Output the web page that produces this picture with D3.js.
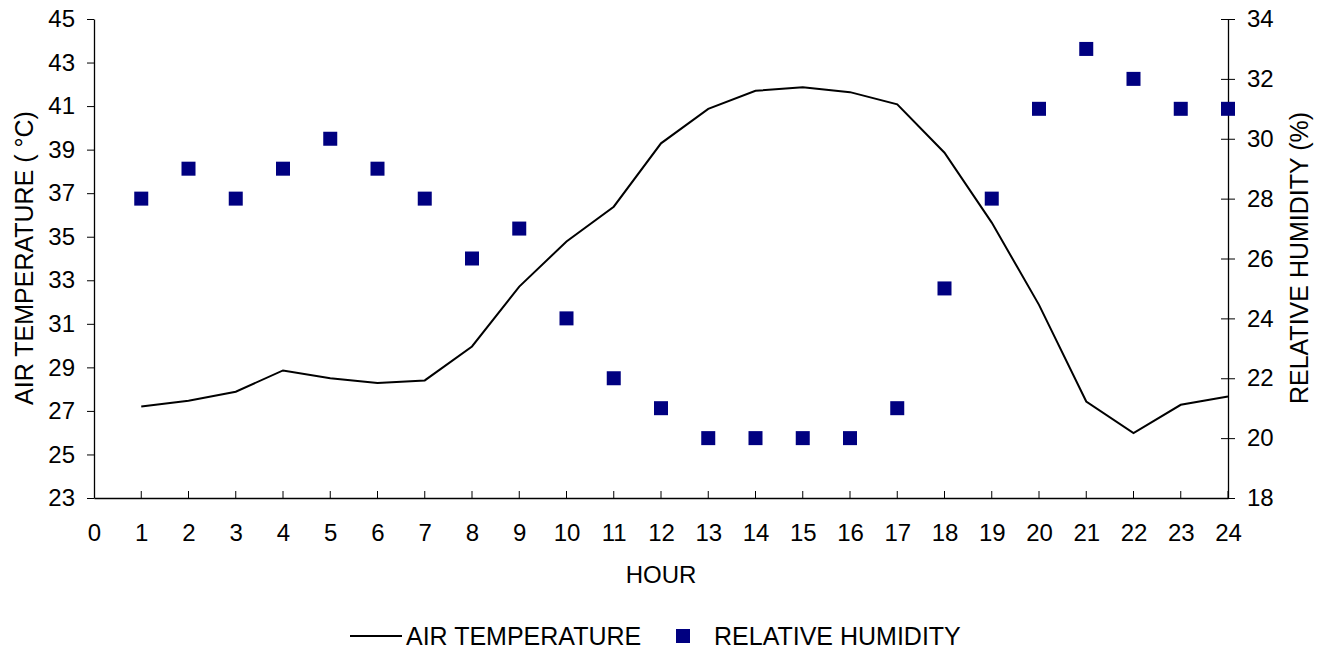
<!DOCTYPE html>
<html><head><meta charset="utf-8">
<script src="https://cdn.jsdelivr.net/npm/d3@7"></script>
<style>body{margin:0;background:#fff;} svg text{font-family:"Liberation Sans",Arial,sans-serif;fill:#000;}</style>
</head><body>
<svg id="chart" width="1331" height="656"></svg>
<script>
const hours = [1,2,3,4,5,6,7,8,9,10,11,12,13,14,15,16,17,18,19,20,21,22,23,24];
const airTemperature = [27.2,27.47,27.88,28.86,28.5,28.28,28.4,29.96,32.71,34.78,36.38,39.29,40.87,41.7,41.86,41.64,41.08,38.86,35.65,31.87,27.43,25.98,27.28,27.66];
const relativeHumidity = [28,29,28,29,30,29,28,26,27,24,22,21,20,20,20,20,21,25,28,31,33,32,31,31];
const xTicks = d3.range(0,25);
const leftTicks = [23,25,27,29,31,33,35,37,39,41,43,45];
const rightTicks = [18,20,22,24,26,28,30,32,34];

const svg = d3.select("#chart");
const L=94, R=1228, T=19, B=498;
const x = d3.scaleLinear().domain([0,24]).range([L,R]);
const yL = d3.scaleLinear().domain([23,45]).range([B,T]);
const yR = d3.scaleLinear().domain([18,34]).range([B,T]);

// x axis
const gx = svg.append("g").attr("transform",`translate(0,${B})`)
  .call(d3.axisBottom(x).tickValues(xTicks).tickSize(0).tickPadding(26).tickFormat(d3.format("d")));
gx.select(".domain").attr("stroke","#000").attr("stroke-width",1.3);
gx.selectAll("text").attr("font-size",24);
gx.selectAll(".inner").data(xTicks.slice(1)).enter().append("line")
  .attr("x1",d=>x(d)).attr("x2",d=>x(d)).attr("y1",0).attr("y2",-7).attr("stroke","#000").attr("stroke-width",1);

// left axis
const gl = svg.append("g").attr("transform",`translate(${L},0)`)
  .call(d3.axisLeft(yL).tickValues(leftTicks).tickSize(7).tickPadding(12).tickSizeOuter(0));
gl.select(".domain").attr("stroke","#000").attr("stroke-width",1.3);
gl.selectAll("text").attr("font-size",24);

// right axis
const gr = svg.append("g").attr("transform",`translate(${R},0)`)
  .call(d3.axisRight(yR).tickValues(rightTicks).tickSize(7).tickPadding(12).tickSizeOuter(0));
gr.select(".domain").attr("stroke","#000").attr("stroke-width",1.3);
gr.selectAll(".tick line").attr("x1",-7);
gr.selectAll("text").attr("font-size",24);

// titles
svg.append("text").attr("x",661).attr("y",583).attr("text-anchor","middle").attr("font-size",24).text("HOUR");
svg.append("text").attr("transform","translate(33,258) rotate(-90)").attr("text-anchor","middle").attr("font-size",25).text("AIR TEMPERATURE ( °C)");
svg.append("text").attr("transform","translate(1308,258) rotate(-90)").attr("text-anchor","middle").attr("font-size",25).text("RELATIVE HUMIDITY (%)");

// line
svg.append("path").datum(hours.map((h,i)=>[h,airTemperature[i]]))
  .attr("d",d3.line().x(d=>x(d[0])).y(d=>yL(d[1])))
  .attr("fill","none").attr("stroke","#000").attr("stroke-width",2);

// squares
const s=14;
svg.selectAll(".rh").data(hours.map((h,i)=>[h,relativeHumidity[i]])).enter().append("rect")
  .attr("x",d=>x(d[0])-s/2).attr("y",d=>yR(d[1])-s/2).attr("width",s).attr("height",s)
  .attr("fill","#000080");

// legend
const ly=636;
svg.append("line").attr("x1",350).attr("x2",402).attr("y1",ly).attr("y2",ly).attr("stroke","#000").attr("stroke-width",2);
svg.append("text").attr("x",406).attr("y",ly+9).attr("font-size",25).text("AIR TEMPERATURE");
svg.append("rect").attr("x",676).attr("y",ly-7).attr("width",14).attr("height",14).attr("fill","#000080");
svg.append("text").attr("x",714).attr("y",ly+9).attr("font-size",25).text("RELATIVE HUMIDITY");
</script>
</body></html>
